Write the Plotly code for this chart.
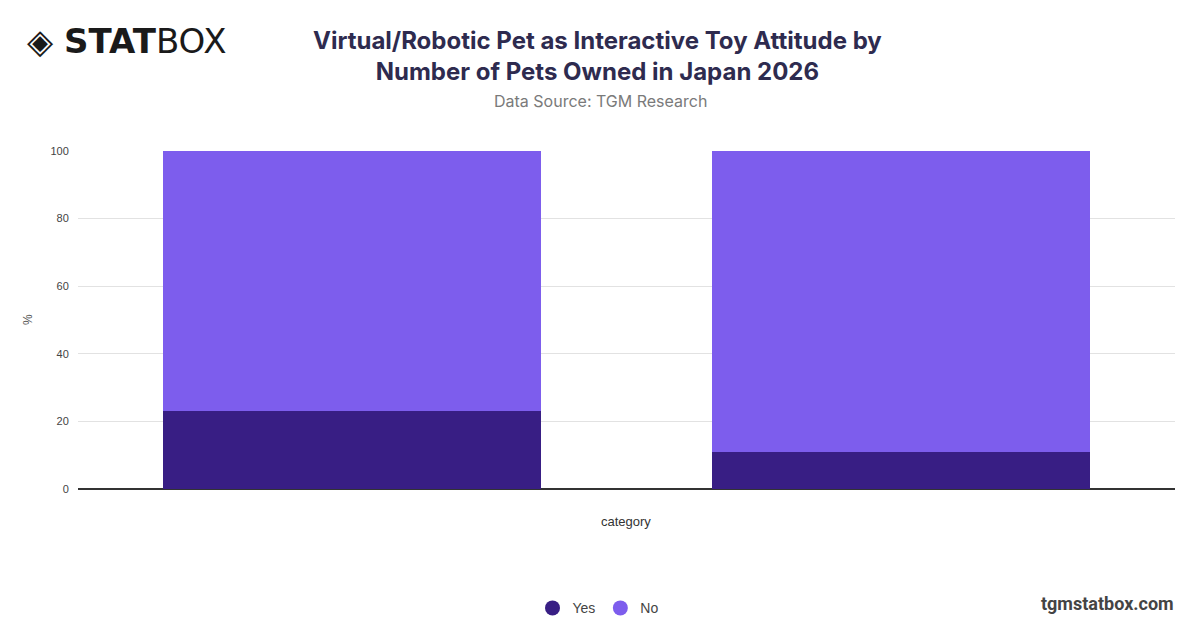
import plotly.graph_objects as go

# Data
categories = ["1 pet", "2+ pets"]
yes_values = [23, 11]
no_values = [77, 89]
series_names = ["Yes", "No"]
series_colors = ["#381E84", "#7D5DED"]
y_ticks = [0, 20, 40, 60, 80, 100]

fig = go.Figure()

# Stacked bars
for name, vals, col in zip(series_names, [yes_values, no_values], series_colors):
    fig.add_trace(go.Bar(x=categories, y=vals, name=name, marker=dict(color=col, line=dict(width=0)),
                         showlegend=False))

# Round legend markers
for name, col in zip(series_names, series_colors):
    fig.add_trace(go.Scatter(x=[None], y=[None], mode="markers", name=name,
                             marker=dict(color=col, size=15, symbol="circle")))

# paper coords for screen pixels (plot area 78..1175 x 151..491 on screen)
def py(pix):
    return (491 - pix) / 340

def px(pix):
    return (pix - 78) / 1097

# page body adds an 8px offset, so margins are shifted by 8
fig.update_layout(
    width=1200, height=628,
    barmode="stack", bargap=0.31,
    plot_bgcolor="white", paper_bgcolor="white",
    margin=dict(l=70, r=33, t=143, b=145),
    font=dict(family="Liberation Sans, Arial, sans-serif", color="#444"),
    xaxis=dict(showticklabels=False, showgrid=False, ticks="", showline=False),
    yaxis=dict(range=[0, 100], tickvals=y_ticks, gridcolor="#e2e2e2", gridwidth=1,
               zeroline=True, zerolinecolor="#333", zerolinewidth=1.5,
               tickfont=dict(size=11, color="#444"), ticklen=6, tickcolor="white", ticks="outside"),
    legend=dict(orientation="h", x=px(598), xanchor="center", y=py(611), yanchor="middle",
                traceorder="normal",
                font=dict(size=14, color="#444", family="Liberation Sans, Arial"), itemwidth=30),
    showlegend=True,
)

ann = [
    dict(text="<b>Virtual/Robotic Pet as Interactive Toy Attitude by<br>Number of Pets Owned in Japan 2026</b>",
         x=px(597), y=py(55), font=dict(size=24, color="#2E2B4F", family="Inter, Roboto, sans-serif")),
    dict(text="Data Source: TGM Research", x=px(600), y=py(101),
         font=dict(size=16, color="#7a7a7a", family="Inter, Roboto, sans-serif")),
    dict(text="category", x=px(626), y=py(524), font=dict(size=13, color="#333")),
    dict(text="%", x=px(28), y=py(321), textangle=-90, font=dict(size=12, color="#555")),
    dict(text="◈ <b>STAT</b>BOX", x=px(25), y=py(40), xanchor="left",
         font=dict(size=34, color="#1a1a1a", family="DejaVu Sans, sans-serif")),
    dict(text="<b>tgmstatbox.com</b>", x=px(1176), y=py(606), xanchor="right",
         font=dict(size=18, color="#444", family="Roboto, sans-serif")),
]
for a in ann:
    a.setdefault("xanchor", "center")
    a.update(xref="paper", yref="paper", showarrow=False, yanchor="middle")
fig.update_layout(annotations=ann)

fig.write_html("out.html")
